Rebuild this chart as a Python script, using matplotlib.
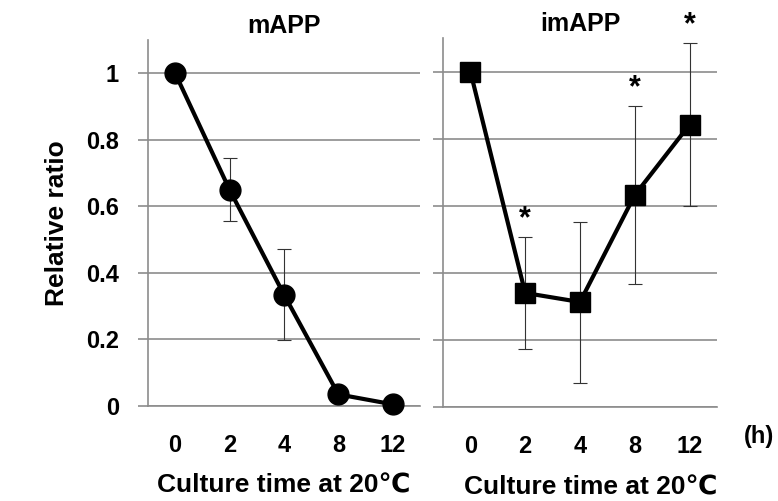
import matplotlib
matplotlib.use("Agg")
import matplotlib.pyplot as plt

plt.rcParams['font.family'] = ['Liberation Sans', 'DejaVu Sans']
plt.rcParams['font.weight'] = 'bold'

time_labels = ['0', '2', '4', '8', '12']

mapp_mean = [1.0, 0.65, 0.335, 0.035, 0.005]
mapp_err = [0.0, 0.095, 0.137, 0.0, 0.0]

imapp_mean = [1.0, 0.34, 0.313, 0.632, 0.842]
imapp_err = [0.0, 0.166, 0.24, 0.265, 0.242]
imapp_star = [False, True, False, True, True]

y_ticks = [0, 0.2, 0.4, 0.6, 0.8, 1.0]
y_tick_labels = ['0', '0.2', '0.4', '0.6', '0.8', '1']

grid_col = '#8c8c8c'


def style_axes(ax, show_labels):
    ax.set_xlim(-0.5, 4.5)
    ax.set_ylim(0, 1.1)
    ax.set_yticks(y_ticks)
    ax.set_xticks(range(len(time_labels)))
    ax.set_xticklabels(time_labels, fontsize=17, fontweight='bold')
    if show_labels:
        ax.set_yticklabels(y_tick_labels, fontsize=17, fontweight='bold')
    else:
        ax.set_yticklabels([])
    ax.tick_params(axis='x', length=0, pad=20)
    ax.tick_params(axis='y', direction='out', length=7, width=1.2, color=grid_col, pad=14)
    for s in ['top', 'right', 'bottom']:
        ax.spines[s].set_visible(False)
    ax.spines['left'].set_color(grid_col)
    ax.spines['left'].set_linewidth(1.2)
    ax.yaxis.grid(True, color=grid_col, linewidth=1.2)
    ax.axhline(0, color=grid_col, linewidth=1.2, clip_on=False, zorder=1)
    ax.set_axisbelow(True)
    ax.set_xlabel('Culture time at 20℃', fontsize=19, fontweight='bold')
    ax.xaxis.set_label_coords(0.5, -0.185)


fig = plt.figure(figsize=(7.78, 5.01), dpi=100)
ax1 = fig.add_axes([0.1902, 0.1896, 0.3496, 0.7305])
ax2 = fig.add_axes([0.5694, 0.1876, 0.3522, 0.7365])

x = range(len(time_labels))

ax1.errorbar(x, mapp_mean, yerr=mapp_err, fmt='none', ecolor='#333333',
             elinewidth=0.8, capsize=5, capthick=0.8, zorder=2)
ax1.plot(x, mapp_mean, color='black', linewidth=3, marker='o', markersize=15,
         clip_on=False, zorder=3)
style_axes(ax1, True)
ax1.set_title('mAPP', fontsize=18, fontweight='bold', pad=5)
ax1.set_ylabel('Relative ratio', fontsize=19, fontweight='bold', labelpad=12)

ax2.errorbar(x, imapp_mean, yerr=imapp_err, fmt='none', ecolor='#333333',
             elinewidth=0.8, capsize=5, capthick=0.8, zorder=2)
ax2.plot(x, imapp_mean, color='black', linewidth=3, marker='s', markersize=15,
         clip_on=False, zorder=3)
style_axes(ax2, False)
ax2.set_title('imAPP', fontsize=18, fontweight='bold', pad=5)
ax2.xaxis.set_label_coords(0.54, -0.185)

for i, star in enumerate(imapp_star):
    if star:
        ax2.text(i, imapp_mean[i] + imapp_err[i] + 0.01, '*', ha='center', va='bottom',
                 fontsize=22, fontweight='bold', clip_on=False)

fig.text(0.975, 0.128, '(h)', fontsize=17, fontweight='bold', ha='center', va='center')

fig.savefig('out.png', dpi=100)
